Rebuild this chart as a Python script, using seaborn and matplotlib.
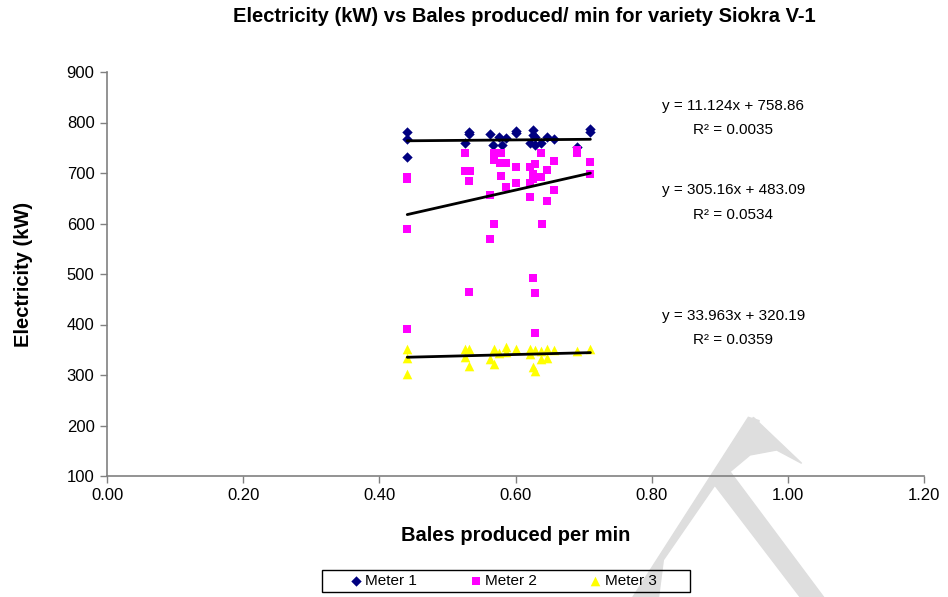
import numpy as np
import pandas as pd
import seaborn as sns
import matplotlib.pyplot as plt
from matplotlib.patches import Polygon, Rectangle

# Bales produced per min / Electricity (kW)
meter1_x = [0.441, 0.441, 0.441, 0.526, 0.532, 0.532, 0.562, 0.567, 0.576, 0.580,
            0.586, 0.600, 0.600, 0.625, 0.625, 0.629, 0.621, 0.629, 0.638, 0.646,
            0.657, 0.690, 0.710, 0.710]
meter1_y = [782, 767, 732, 759, 782, 777, 778, 755, 772, 755,
            770, 784, 780, 785, 775, 772, 760, 755, 760, 772,
            767, 751, 787, 782]

meter2_x = [0.441, 0.441, 0.526, 0.526, 0.533, 0.532, 0.562, 0.568, 0.568, 0.579,
            0.577, 0.586, 0.579, 0.586, 0.600, 0.600, 0.621, 0.629, 0.625, 0.625,
            0.621, 0.638, 0.638, 0.646, 0.657, 0.657, 0.690, 0.690, 0.710, 0.710,
            0.621, 0.646, 0.441, 0.568, 0.639, 0.562, 0.625, 0.532, 0.629, 0.441,
            0.629]
meter2_y = [693, 688, 739, 703, 703, 684, 656, 739, 726, 739,
            719, 719, 694, 673, 712, 681, 712, 718, 699, 688,
            680, 739, 692, 706, 724, 666, 746, 740, 722, 698,
            652, 644, 590, 600, 600, 570, 493, 464, 462, 391,
            383]

meter3_x = [0.441, 0.441, 0.441, 0.526, 0.532, 0.526, 0.532, 0.562, 0.568, 0.568,
            0.576, 0.586, 0.586, 0.600, 0.621, 0.629, 0.621, 0.625, 0.629, 0.638,
            0.646, 0.638, 0.646, 0.657, 0.690, 0.710]
meter3_y = [351, 333, 302, 351, 351, 335, 318, 331, 351, 322,
            343, 355, 346, 351, 351, 350, 342, 316, 308, 348,
            351, 331, 333, 350, 348, 351]

# trendline coefficients as printed on the chart
slopes = [11.124, 305.16, 33.963]
intercepts = [758.86, 483.09, 320.19]
r_squared = ["0.0035", "0.0534", "0.0359"]

meters = ["Meter 1", "Meter 2", "Meter 3"]
x_ticks = [0.0, 0.2, 0.4, 0.6, 0.8, 1.0, 1.2]
y_ticks = [100, 200, 300, 400, 500, 600, 700, 800, 900]

df = pd.concat([
    pd.DataFrame({"bales": meter1_x, "kw": meter1_y, "meter": "Meter 1"}),
    pd.DataFrame({"bales": meter2_x, "kw": meter2_y, "meter": "Meter 2"}),
    pd.DataFrame({"bales": meter3_x, "kw": meter3_y, "meter": "Meter 3"}),
])

sns.set_style("white")
plt.rcParams["font.family"] = ["Liberation Sans", "DejaVu Sans"]
plt.rcParams["text.color"] = "black"
plt.rcParams["axes.labelcolor"] = "black"
plt.rcParams["xtick.color"] = "black"
plt.rcParams["ytick.color"] = "black"

fig = plt.figure(figsize=(9.48, 5.97), dpi=100)
ax = fig.add_axes([107 / 948, 1 - 476 / 597, (924 - 107) / 948, (476 - 72) / 597])
ax.patch.set_visible(False)

# faint watermark shape behind the plot (figure pixel coords)
def px(points):
    return [((620 + zx / 3) / 948, 1 - (400 + zy / 3) / 597) for zx, zy in points]

wm_color = "#dedede"
fig.patches.append(Polygon(px([(385, 52), (418, 62), (130, 480), (115, 597), (35, 597)]),
                           closed=True, transform=fig.transFigure, color=wm_color, zorder=-5))
fig.patches.append(Polygon(px([(400, 52), (545, 190), (470, 150), (390, 165), (330, 215),
                               (615, 597), (545, 597), (280, 250), (360, 130)]),
                           closed=True, transform=fig.transFigure, color=wm_color, zorder=-5))

styles = {
    "Meter 1": dict(marker="D", color="#000080", s=28),
    "Meter 2": dict(marker="s", color="#ff00ff", s=34),
    "Meter 3": dict(marker="^", color="#ffff00", s=48),
}

for m in meters:
    sub = df[df["meter"] == m]
    sns.scatterplot(data=sub, x="bales", y="kw", ax=ax, label=m, linewidth=0,
                    zorder=3, **styles[m])

# linear trendlines
for i, m in enumerate(meters):
    sub = df[df["meter"] == m]
    xs = np.array([sub["bales"].min(), sub["bales"].max()])
    ax.plot(xs, slopes[i] * xs + intercepts[i], color="black", lw=2, zorder=4)

eq_pos = [(0.92, 833, 785), (0.92, 666, 617), (0.92, 417, 369)]
for i, (ex, ey1, ey2) in enumerate(eq_pos):
    ax.text(ex, ey1, f"y = {slopes[i]}x + {intercepts[i]}", ha="center", va="center", fontsize=11)
    ax.text(ex, ey2, f"R\u00b2 = {r_squared[i]}", ha="center", va="center", fontsize=11)

ax.set_xlim(0, 1.2)
ax.set_ylim(100, 900)
ax.set_xticks(x_ticks)
ax.set_xticklabels([f"{t:.2f}" for t in x_ticks])
ax.set_yticks(y_ticks)
ax.tick_params(axis="both", direction="out", length=5, width=1, color="#808080",
               labelsize=12, pad=4, bottom=True, left=True)
for side in ["top", "right"]:
    ax.spines[side].set_visible(False)
for side in ["left", "bottom"]:
    ax.spines[side].set_color("#808080")
    ax.spines[side].set_linewidth(1.2)

ax.set_xlabel("Bales produced per min", fontsize=14.5, fontweight="bold", labelpad=16)
ax.set_ylabel("Electricity (kW)", fontsize=14.5, fontweight="bold", labelpad=24)
fig.text(524 / 948, 1 - 17 / 597, "Electricity (kW) vs Bales produced/ min for variety Siokra V-1",
         ha="center", va="center", fontsize=14.5, fontweight="bold")

# legend: frame drawn separately so the padding matches the original box
ax.get_legend().remove()
handles, labels = ax.get_legend_handles_labels()
fig.patches.append(Rectangle((322 / 948, 1 - 592 / 597), 368 / 948, 22 / 597,
                             transform=fig.transFigure, fill=False, edgecolor="black",
                             linewidth=1, zorder=5))
fig.legend(handles, labels, loc="center left", bbox_to_anchor=(348 / 948, 1 - 581 / 597),
           ncol=3, frameon=False, fontsize=11, handletextpad=0.1, handlelength=1.0,
           columnspacing=3.35, borderpad=0, borderaxespad=0)

fig.savefig("out.png", dpi=100)
